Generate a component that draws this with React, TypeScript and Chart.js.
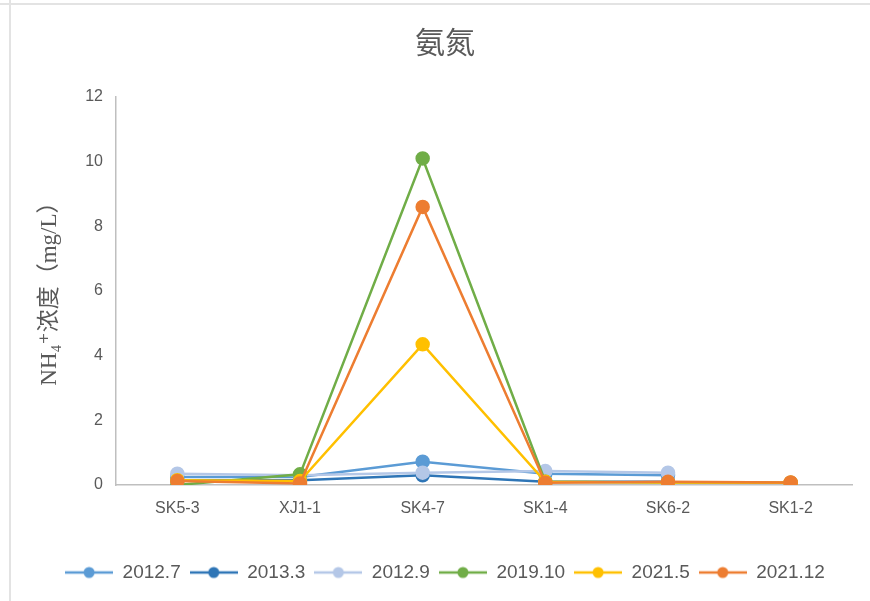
import React, { useEffect, useRef } from "react";
import { Chart, registerables } from "chart.js";

Chart.register(...registerables);

const categories = ["SK5-3", "XJ1-1", "SK4-7", "SK1-4", "SK6-2", "SK1-2"];
const seriesNames = ["2012.7", "2013.3", "2012.9", "2019.10", "2021.5", "2021.12"];
const s2012_7 = [0.25, 0.25, 0.72, 0.35, 0.3, null];
const s2013_3 = [0.15, 0.15, 0.3, 0.1, 0.1, null];
const s2012_9 = [0.35, 0.3, 0.38, 0.43, 0.38, null];
const s2019_10 = [0.0, 0.33, 10.1, 0.1, 0.08, 0.07];
const s2021_5 = [0.15, 0.12, 4.35, 0.1, 0.08, 0.07];
const s2021_12 = [0.12, 0.05, 8.6, 0.07, 0.1, 0.08];
const seriesValues = [s2012_7, s2013_3, s2012_9, s2019_10, s2021_5, s2021_12];
const seriesColors = ["#5B9BD5", "#2E75B6", "#B4C7E7", "#70AD47", "#FFC000", "#ED7D31"];
const yMin = 0;
const yMax = 12;
const yStep = 2;
const titleText = "氨氮";
const yTitle = " NH₄⁺浓度（mg/L）";

function legendSymbol(color: string): HTMLCanvasElement {
  const c = document.createElement("canvas");
  c.width = 48;
  c.height = 14;
  const ctx = c.getContext("2d")!;
  ctx.strokeStyle = color;
  ctx.lineWidth = 2.5;
  ctx.beginPath();
  ctx.moveTo(0, 7);
  ctx.lineTo(48, 7);
  ctx.stroke();
  ctx.fillStyle = color;
  ctx.beginPath();
  ctx.arc(24, 7, 5.5, 0, Math.PI * 2);
  ctx.fill();
  return c;
}

export default function App() {
  const ref = useRef<HTMLCanvasElement | null>(null);
  useEffect(() => {
    if (!ref.current) return;
    const n = seriesNames.length;
    const chart = new Chart(ref.current, {
      type: "line",
      data: {
        labels: categories,
        datasets: seriesNames.map((name, i) => ({
          label: name,
          data: seriesValues[i],
          borderColor: seriesColors[i],
          backgroundColor: seriesColors[i],
          pointBackgroundColor: seriesColors[i],
          pointBorderColor: seriesColors[i],
          borderWidth: 2.5,
          pointRadius: 6,
          pointHoverRadius: 6,
          tension: 0,
          spanGaps: false,
          order: n - i,
        })),
      },
      options: {
        animation: false,
        responsive: false,
        maintainAspectRatio: false,
        layout: { padding: { left: 38, right: 18, top: 0, bottom: 9 } },
        plugins: {
          tooltip: { enabled: false },
          title: {
            display: true,
            text: titleText,
            color: "#595959",
            font: { size: 30, family: "'Noto Sans CJK SC'", weight: "normal", lineHeight: 1.2 },
            padding: { top: 24, bottom: 37 },
          },
          legend: {
            display: true,
            position: "bottom",
            labels: {
              color: "#595959",
              font: { size: 19, family: "'Liberation Sans', Arial, sans-serif" },
              usePointStyle: true,
              pointStyleWidth: 48,
              boxHeight: 14,
              padding: 9,
              generateLabels: (ch: any) =>
                ch.data.datasets.map((ds: any, i: number) => ({
                  text: ds.label,
                  fillStyle: seriesColors[i],
                  strokeStyle: seriesColors[i],
                  fontColor: "#595959",
                  lineWidth: 0,
                  pointStyle: legendSymbol(seriesColors[i]),
                  hidden: false,
                  datasetIndex: i,
                })),
            },
          },
        },
        scales: {
          x: {
            offset: true,
            grid: { display: false, drawTicks: false },
            border: { display: true, color: "#BFBFBF", width: 1.5 },
            ticks: {
              color: "#595959",
              font: { size: 16, family: "'Liberation Sans', Arial, sans-serif" },
              padding: 14,
              maxRotation: 0,
            },
            afterFit: (scale: any) => {
              scale.height = 69;
            },
          },
          y: {
            min: yMin,
            max: yMax,
            grid: { display: false, drawTicks: false },
            border: { display: true, color: "#BFBFBF", width: 1.5 },
            ticks: {
              stepSize: yStep,
              color: "#595959",
              font: { size: 16, family: "'Liberation Sans', Arial, sans-serif" },
              padding: 13,
            },
            title: {
              display: true,
              text: yTitle,
              color: "#595959",
              font: { size: 23, family: "'Liberation Serif', 'DejaVu Serif', 'Noto Sans CJK SC', serif", lineHeight: 1 },
              padding: { top: 0, bottom: 0 },
            },
            afterFit: (scale: any) => {
              scale.width = 78;
            },
          },
        },
      },
    });
    return () => chart.destroy();
  }, []);
  return (
    <div style={{ position: "fixed", left: 0, top: 0, width: 870, height: 601, background: "#fff" }}>
      <canvas ref={ref} width={870} height={601} style={{ position: "absolute", left: 0, top: 0, width: 870, height: 601 }} />
      <div style={{ position: "absolute", left: 0, top: 3, width: 870, height: 2, background: "#E3E3E3" }} />
      <div style={{ position: "absolute", left: 9, top: 0, width: 2, height: 601, background: "#E3E3E3" }} />
    </div>
  );
}
